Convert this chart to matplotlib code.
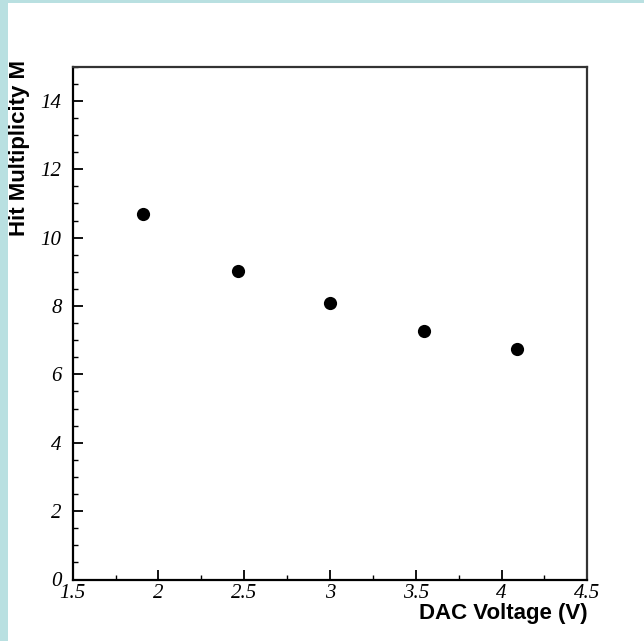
import matplotlib
matplotlib.use("Agg")
import matplotlib.pyplot as plt
from matplotlib.ticker import MultipleLocator
from matplotlib.patches import Rectangle
from matplotlib.transforms import ScaledTranslation

# DAC threshold voltage vs. mean hit multiplicity
dac_voltage = [1.912, 2.462, 3.0, 3.55, 4.092]
hit_multiplicity = [10.68, 9.02, 8.10, 7.27, 6.73]

x_ticks = [1.5, 2.0, 2.5, 3.0, 3.5, 4.0, 4.5]
x_tick_labels = ["1.5", "2", "2.5", "3", "3.5", "4", "4.5"]
y_ticks = [0, 2, 4, 6, 8, 10, 12, 14]
y_tick_labels = ["0", "2", "4", "6", "8", "10", "12", "14"]

W, H = 644, 641
fig = plt.figure(figsize=(W / 100, H / 100), dpi=100)
fig.patch.set_facecolor("white")

# light frame along the top and left edges
frame_color = "#b9e0e1"
fig.add_artist(Rectangle((0, 0), 8 / W, 1, transform=fig.transFigure,
                         facecolor=frame_color, edgecolor="none", zorder=0))
fig.add_artist(Rectangle((0, 1 - 3 / H), 1, 3 / H, transform=fig.transFigure,
                         facecolor=frame_color, edgecolor="none", zorder=0))

left, right, top, bottom = 72.7, 587.3, 66.7, 579.5
ax = fig.add_axes([left / W, 1 - bottom / H, (right - left) / W, (bottom - top) / H])

ax.plot(dac_voltage, hit_multiplicity, "o", color="black", markersize=9.5,
        markeredgewidth=0, clip_on=False)

ax.set_xlim(1.5, 4.5)
ax.set_ylim(0, 15)
ax.set_xticks(x_ticks)
ax.set_xticklabels(x_tick_labels)
ax.set_yticks(y_ticks)
ax.set_yticklabels(y_tick_labels)
ax.xaxis.set_minor_locator(MultipleLocator(0.25))
ax.yaxis.set_minor_locator(MultipleLocator(0.5))

shift_right = ScaledTranslation(4 / 100, 0, fig.dpi_scale_trans)
for lab in ax.get_xticklabels() + ax.get_yticklabels():
    lab.set_fontfamily("Liberation Serif")
    lab.set_fontstyle("italic")
    lab.set_fontsize(15)
for lab in ax.get_xticklabels():
    lab.set_transform(lab.get_transform() + shift_right)

ax.tick_params(axis="both", which="major", direction="in", length=7, width=1.3,
               color="black", top=False, right=False)
ax.tick_params(axis="both", which="minor", direction="in", length=3.5, width=1.0,
               color="black", top=False, right=False)
ax.tick_params(axis="x", which="major", pad=3)
ax.tick_params(axis="y", which="major", pad=8)

for side in ["left", "bottom"]:
    ax.spines[side].set_linewidth(1.6)
    ax.spines[side].set_color("black")
for side in ["top", "right"]:
    ax.spines[side].set_linewidth(1.6)
    ax.spines[side].set_color("#333333")

fig.text(right / W, 1 - 603 / H, "DAC Voltage (V)", ha="right", va="top",
         fontfamily="Liberation Sans", fontweight="bold", fontsize=16)
fig.text(20 / W, 1 - 60 / H, "Hit Multiplicity M", ha="center", va="top",
         rotation=90, fontfamily="Liberation Sans", fontweight="bold", fontsize=16)

fig.savefig("out.png", dpi=100, facecolor="white")
